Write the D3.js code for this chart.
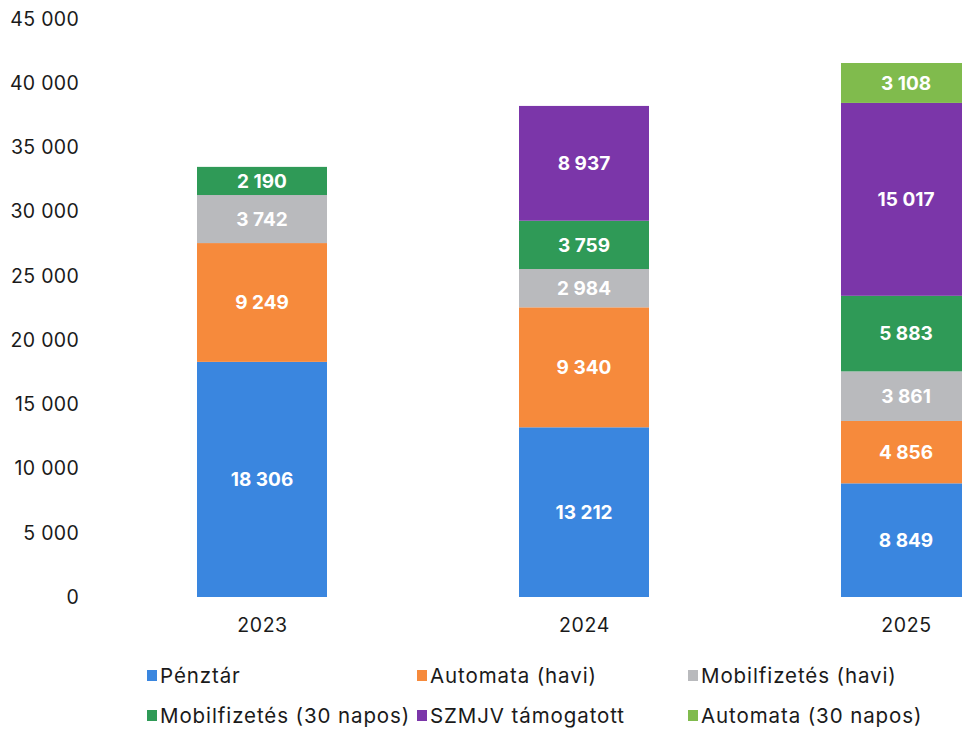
<!DOCTYPE html>
<html>
<head>
<meta charset="utf-8">
<script src="https://cdn.jsdelivr.net/npm/d3@7"></script>
<style>
  body { margin: 0; background: #fff; }
  svg { display: block; font-family: Inter, "Noto Sans", sans-serif; }
  .tick text { fill: #1a1a1a; }
</style>
</head>
<body>
<div id="graf"></div>
<script>
// Adatok
const years = ["2023", "2024", "2025"]
const series = ["Pénztár", "Automata (havi)", "Mobilfizetés (havi)", "Mobilfizetés (30 napos)", "SZMJV támogatott", "Automata (30 napos)"]
const colors = ["#3a86df", "#f68a3c", "#b9babd", "#2f9a57", "#7b36a9", "#80bb4d"]
const penztar = [18306, 13212, 8849]
const automataHavi = [9249, 9340, 4856]
const mobilHavi = [3742, 2984, 3861]
const mobil30 = [2190, 3759, 5883]
const szmjv = [0, 8937, 15017]
const automata30 = [0, 0, 3108]
const yTicks = [0, 5000, 10000, 15000, 20000, 25000, 30000, 35000, 40000, 45000]

const draw = () => {
  const width = 962
  const height = 731
  const barWidth = 130

  const rows = years.map((y, i) => ({
    year: y,
    "Pénztár": penztar[i],
    "Automata (havi)": automataHavi[i],
    "Mobilfizetés (havi)": mobilHavi[i],
    "Mobilfizetés (30 napos)": mobil30[i],
    "SZMJV támogatott": szmjv[i],
    "Automata (30 napos)": automata30[i]
  }))

  const stacked = d3.stack().keys(series)(rows)

  const color = d3.scaleOrdinal().domain(series).range(colors)
  const x = d3.scalePoint().domain(years).range([262, 906])
  const y = d3.scaleLinear().domain([0, 45000]).range([597, 19])

  const fmt = (d) => d3.format(",")(d).replace(/,/g, " ")

  const svg = d3.select("#graf")
    .append("svg")
    .attr("width", width)
    .attr("height", height)

  // Oszlopok
  const layers = svg.append("g")
    .selectAll("g")
    .data(stacked)
    .join("g")
    .attr("fill", (d) => color(d.key))

  layers.selectAll("rect")
    .data((d) => d)
    .join("rect")
    .attr("x", (d) => x(d.data.year) - barWidth / 2)
    .attr("y", (d) => y(d[1]))
    .attr("width", barWidth)
    .attr("height", (d) => y(d[0]) - y(d[1]))

  // Értékcímkék
  layers.selectAll("text")
    .data((d) => d.filter((v) => v[1] - v[0] > 0))
    .join("text")
    .attr("x", (d) => x(d.data.year))
    .attr("y", (d) => (y(d[0]) + y(d[1])) / 2)
    .attr("dy", "0.35em")
    .attr("text-anchor", "middle")
    .attr("fill", "#fff")
    .attr("font-size", 19)
    .attr("font-weight", 700)
    .text((d) => fmt(d[1] - d[0]))

  // Y tengely
  const yAxis = d3.axisLeft(y)
    .tickValues(yTicks)
    .tickSize(0)
    .tickPadding(0)
    .tickFormat(fmt)

  svg.append("g")
    .attr("transform", "translate(79, 0)")
    .call(yAxis)
    .call((g) => g.select(".domain").remove())
    .selectAll("text")
    .attr("font-size", 19.5)
    .attr("letter-spacing", 0.3)
    .attr("font-family", "Inter, sans-serif")

  // X tengely
  const xAxis = d3.axisBottom(x).tickSize(0).tickPadding(0)
  svg.append("g")
    .attr("transform", "translate(0, 618)")
    .call(xAxis)
    .call((g) => g.select(".domain").remove())
    .selectAll("text")
    .attr("font-size", 19.5)
    .attr("letter-spacing", 0.6)
    .attr("font-family", "Inter, sans-serif")

  // Jelmagyarázat
  const legendX = [147, 417, 688]
  const legendY = [676, 716]
  const legend = svg.append("g")
    .selectAll("g")
    .data(series)
    .join("g")
    .attr("transform", (d, i) => `translate(${legendX[i % 3]}, ${legendY[Math.floor(i / 3)]})`)

  legend.append("rect")
    .attr("x", 0)
    .attr("y", -6)
    .attr("width", 10)
    .attr("height", 11)
    .attr("fill", (d) => color(d))

  legend.append("text")
    .attr("x", 13)
    .attr("dy", "0.35em")
    .attr("font-size", 20.5)
    .attr("letter-spacing", 0.9)
    .attr("fill", "#1a1a1a")
    .text((d) => d)
}

draw()
</script>
</body>
</html>
